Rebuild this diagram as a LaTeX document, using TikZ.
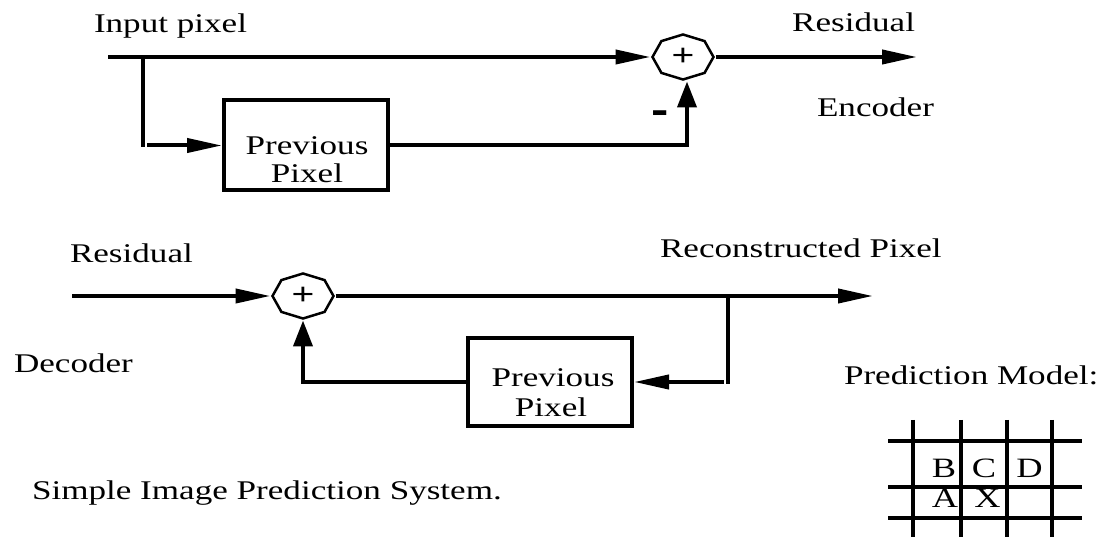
\documentclass[tikz,border=0pt]{standalone}
\usepackage{fontspec}
\setmainfont{Liberation Serif}[FakeStretch=1.3]
\setsansfont{Liberation Sans}[FakeStretch=1.3]
\usetikzlibrary{arrows.meta}

\begin{document}
\begin{tikzpicture}[x=1pt,y=-1pt,
  line width=4pt,
  lab/.style={font=\fontsize{27}{28}\selectfont, inner sep=0pt},
  boxtext/.style={font=\fontsize{27}{28}\selectfont, inner sep=0pt, anchor=base},
  cell/.style={font=\fontsize{28}{28}\selectfont, inner sep=0pt, anchor=base},
  box/.style={draw, line width=4pt, minimum width=164pt, minimum height=90pt, inner sep=0pt},
  sumnode/.style={minimum width=61pt, minimum height=45pt, inner sep=0pt,
    font=\sffamily\fontsize{30}{30}\selectfont},
  harrow/.style={-{Triangle[length=35pt,width=14pt]}},
  varrow/.style={-{Triangle[length=26pt,width=19pt]}},
  ]
\useasboundingbox[fill=white] (0,0) rectangle (1104,537);

% octagonal summing junction drawn round a node
\def\sumoutline#1{%
  \draw[line width=2.5pt,line join=miter] (#1.center)
    +(0:30.5 and 22.5) -- +(45:30.5 and 22.5) -- +(90:30.5 and 22.5)
    -- +(135:30.5 and 22.5) -- +(180:30.5 and 22.5) -- +(225:30.5 and 22.5)
    -- +(270:30.5 and 22.5) -- +(315:30.5 and 22.5) -- cycle;}

% ---------------- encoder ----------------
\node[sumnode] (s1) at (683,57) {+};
\sumoutline{s1}
\node[box] (p1) at (306,145.5) {};
\node[boxtext] (p1a) at (307,155) {Previous};
\node[boxtext] (p1b) at (307,183) {Pixel};
\coordinate (in1) at (108,57);
\coordinate (t1) at (143,57);
\coordinate (t1b) at (143,147);
\coordinate (f1) at (147,145.5);
\coordinate (out1) at (917,57);

\draw[harrow] (in1) -- (s1.west);
\draw (t1) -- (t1b);
\draw[harrow] (f1) -- (p1.west);
\draw[harrow] (s1.east) -- (out1);
\draw[varrow] (p1.east) -| ([xshift=4pt]s1.south);

\node[lab, anchor=base west] (inlabel) at (92,33) {Input pixel};
\node[lab, anchor=base east] (res1) at (917,32) {Residual};
\node[lab, anchor=base west] (enc) at (815,117) {Encoder};
\node[font=\sffamily\bfseries\fontsize{40}{40}\selectfont, inner sep=0pt] (minus) at (660,117) {-};

% ---------------- decoder ----------------
\node[sumnode] (s2) at (303,296) {+};
\sumoutline{s2}
\node[box, minimum height=88pt] (p2) at (550,382) {};
\node[boxtext] (p2a) at (553,387) {Previous};
\node[boxtext] (p2b) at (551,417) {Pixel};
\coordinate (in2) at (72,296);
\coordinate (out2) at (873,296);
\coordinate (t2) at (728,296);
\coordinate (t2b) at (728,384);
\coordinate (f2) at (724,382);

\draw[harrow] (in2) -- (s2.west);
\draw[harrow] (s2.east) -- (out2);
\draw (t2) -- (t2b);
\draw[harrow] (f2) -- (p2.east);
\draw[varrow] (p2.west) -| (s2.south);

\node[lab, anchor=base west] (res2) at (68,263) {Residual};
\node[lab, anchor=base west] (dec) at (12,373) {Decoder};
\node[lab, anchor=base west] (recon) at (658,258) {Reconstructed Pixel};

% ---------------- prediction model ----------------
\node[lab, anchor=base west] (model) at (842,385) {Prediction Model:};
\foreach \x in {913,961,1007,1052} \draw (\x,420) -- (\x,537);
\foreach \y in {441,487,518} \draw (888,\y) -- (1082,\y);
\node[cell] (cb) at (944,478) {B};
\node[cell] (cc) at (984,478) {C};
\node[cell] (cd) at (1029.5,478) {D};
\node[cell] (ca) at (945,507) {A};
\node[cell] (cx) at (987.5,507) {X};

\node[lab, anchor=base west] (caption) at (30,500) {Simple Image Prediction System.};
\end{tikzpicture}
\end{document}
